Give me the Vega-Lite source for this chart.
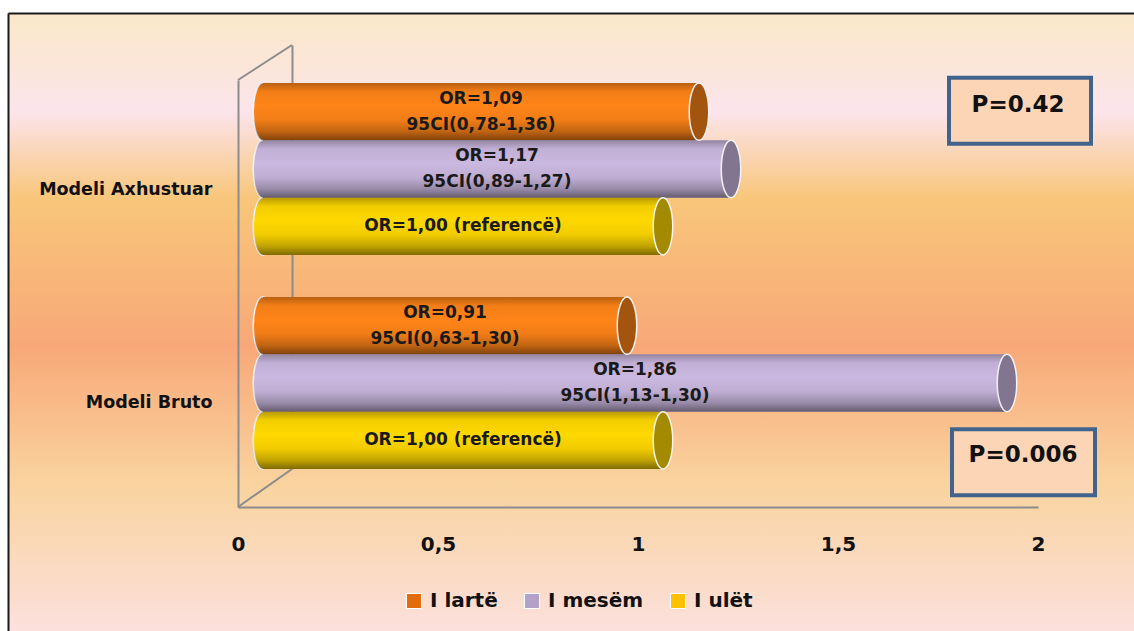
{
  "$schema": "https://vega.github.io/schema/vega-lite/v6.json",
  "autosize": {"type": "none"},
  "padding": {"left": 8, "top": 13, "right": 0, "bottom": 0},
  "width": 1126,
  "height": 618,
  "view": {
    "fill": {
      "gradient": "linear", "x1": 0, "y1": 0, "x2": 0, "y2": 1,
      "stops": [
        {"offset": 0, "color": "#FAE8C8"},
        {"offset": 0.08, "color": "#FBE6D8"},
        {"offset": 0.16, "color": "#FCE4EC"},
        {"offset": 0.3, "color": "#F8C67A"},
        {"offset": 0.54, "color": "#F8A878"},
        {"offset": 0.76, "color": "#F9D39E"},
        {"offset": 1, "color": "#FCE0DC"}
      ]
    },
    "stroke": null
  },
  "datasets": {
    "odds": [
      {"model": "Modeli Axhustuar", "series": "I lartë", "or": 1.09, "label": "OR=1,09\n95CI(0,78-1,36)"},
      {"model": "Modeli Axhustuar", "series": "I mesëm", "or": 1.17, "label": "OR=1,17\n95CI(0,89-1,27)"},
      {"model": "Modeli Axhustuar", "series": "I ulët", "or": 1.0, "label": "OR=1,00 (referencë)"},
      {"model": "Modeli Bruto", "series": "I lartë", "or": 0.91, "label": "OR=0,91\n95CI(0,63-1,30)"},
      {"model": "Modeli Bruto", "series": "I mesëm", "or": 1.86, "label": "OR=1,86\n95CI(1,13-1,30)"},
      {"model": "Modeli Bruto", "series": "I ulët", "or": 1.0, "label": "OR=1,00 (referencë)"}
    ],
    "pvals": [
      {"model": "Modeli Axhustuar", "p": "P=0.42"},
      {"model": "Modeli Bruto", "p": "P=0.006"}
    ]
  },
  "resolve": {
    "scale": {"x": "independent", "y": "independent"},
    "axis": {"x": "independent", "y": "independent"}
  },
  "layer": [
    {
      "data": {"name": "pvals"},
      "mark": {"type": "point", "size": 0, "opacity": 0},
      "encoding": {
        "x": {
          "datum": 0, "type": "quantitative", "scale": {"domain": [0, 1]},
          "axis": {"orient": "top", "offset": 0, "labels": false, "ticks": false, "grid": false, "title": null, "domainColor": "#1a1a1a", "domainWidth": 2}
        },
        "y": {
          "datum": 0, "type": "quantitative", "scale": {"domain": [0, 1]},
          "axis": {"orient": "left", "offset": 0, "labels": false, "ticks": false, "grid": false, "title": null, "domainColor": "#1a1a1a", "domainWidth": 2}
        }
      }
    },
    {
      "data": {"name": "pvals"},
      "encoding": {
        "y": {
          "field": "model", "type": "nominal",
          "scale": {"domain": ["Modeli Axhustuar", "Modeli Bruto"], "range": [67, 494], "paddingInner": 0, "paddingOuter": 0},
          "axis": {
            "orient": "left", "offset": -230, "title": null, "ticks": false, "grid": false,
            "domainColor": "#8C8C8C", "domainWidth": 2,
            "labelFont": "DejaVu Sans", "labelFontWeight": "bold", "labelFontSize": 17.5,
            "labelColor": "#111111", "labelPadding": 26, "labelOffset": 3, "labelLimit": 300, "zindex": 0
          }
        }
      },
      "layer": [
        {
          "transform": [{"filter": "datum.model === 'Modeli Axhustuar'"}],
          "layer": [
            {
              "mark": {"type": "bar", "height": 66, "yOffset": -76, "fill": "#FBD5B5", "stroke": "#41648F", "strokeWidth": 4},
              "encoding": {
                "x": {
                  "datum": 1.7775, "type": "quantitative",
                  "scale": {"domain": [0, 2], "range": [230, 1030], "nice": false, "zero": false},
                  "axis": {
                    "orient": "bottom", "offset": -124, "title": null, "ticks": false, "grid": false,
                    "values": [0, 0.5, 1, 1.5, 2], "labelFlush": false,
                    "labelExpr": "replace(format(datum.value, '~g'), '.', ',')",
                    "domainColor": "#8C8C8C", "domainWidth": 2,
                    "labelFont": "DejaVu Sans", "labelFontWeight": "bold", "labelFontSize": 20,
                    "labelColor": "#111111", "labelPadding": 27, "zindex": 0
                  }
                },
                "x2": {"datum": 2.1325}
              }
            },
            {
              "mark": {"type": "text", "yOffset": -82, "font": "DejaVu Sans", "fontWeight": "bold", "fontSize": 23, "color": "#111111", "baseline": "middle", "align": "center"},
              "encoding": {
                "x": {"datum": 1.95, "type": "quantitative"},
                "text": {"field": "p"}
              }
            },
            {
              "mark": {"type": "rule", "color": "#8C8C8C", "strokeWidth": 2, "y2Offset": -35},
              "encoding": {
                "x": {"datum": 0, "type": "quantitative"},
                "x2": {"datum": 0.135},
                "y": {"datum": "Modeli Axhustuar", "type": "nominal", "bandPosition": 0},
                "y2": {"datum": "Modeli Axhustuar", "bandPosition": 0}
              }
            },
            {
              "mark": {"type": "rule", "color": "#8C8C8C", "strokeWidth": 2, "y2Offset": -38},
              "encoding": {
                "x": {"datum": 0, "type": "quantitative"},
                "x2": {"datum": 0.135},
                "y": {"datum": "Modeli Bruto", "type": "nominal", "bandPosition": 1},
                "y2": {"datum": "Modeli Bruto", "bandPosition": 1}
              }
            }
          ]
        },
        {
          "transform": [{"filter": "datum.model === 'Modeli Bruto'"}],
          "layer": [
            {
              "mark": {"type": "bar", "height": 66, "yOffset": 62, "fill": "#FBD5B5", "stroke": "#41648F", "strokeWidth": 4},
              "encoding": {
                "x": {"datum": 1.785, "type": "quantitative"},
                "x2": {"datum": 2.1425}
              }
            },
            {
              "mark": {"type": "text", "yOffset": 55, "font": "DejaVu Sans", "fontWeight": "bold", "fontSize": 23, "color": "#111111", "baseline": "middle", "align": "center"},
              "encoding": {
                "x": {"datum": 1.9625, "type": "quantitative"},
                "text": {"field": "p"}
              }
            }
          ]
        }
      ]
    },
    {
      "data": {"name": "odds"},
      "encoding": {
        "y": {
          "field": "model", "type": "nominal",
          "scale": {"domain": ["Modeli Axhustuar", "Modeli Bruto"], "range": [32, 456], "paddingInner": 0.37383, "paddingOuter": 0.17757},
          "axis": {
            "orient": "left", "offset": -284, "title": null, "labels": false, "ticks": false, "grid": false,
            "domainColor": "#8C8C8C", "domainWidth": 2, "zindex": 0
          }
        },
        "yOffset": {
          "field": "series", "type": "nominal",
          "scale": {"domain": ["I lartë", "I mesëm", "I ulët"], "range": [0, 172], "paddingInner": 0, "paddingOuter": 0}
        }
      },
      "layer": [
        {
          "mark": {"type": "point", "filled": true, "size": 0},
          "encoding": {
            "x": {
              "datum": 0, "type": "quantitative",
              "scale": {"domain": [0, 2], "range": [255, 1055], "nice": false, "zero": false},
              "axis": null
            },
            "color": {
              "field": "series", "type": "nominal",
              "scale": {"domain": ["I lartë", "I mesëm", "I ulët"], "range": ["#E36C0A", "#B2A2C7", "#FFC000"]},
              "legend": {
                "orient": "none", "legendX": 396, "legendY": 578, "direction": "horizontal", "title": null,
                "labelFont": "DejaVu Sans", "labelFontWeight": "bold", "labelFontSize": 20, "labelColor": "#111111",
                "symbolType": "square", "symbolSize": 225, "symbolStrokeColor": "#FFFFFF", "symbolStrokeWidth": 1,
                "symbolOpacity": 1, "columnPadding": 24, "labelOffset": 6, "padding": 0
              }
            }
          }
        },
        {
          "mark": {
            "type": "point", "filled": true, "opacity": 1, "size": 3287,
            "shape": "M0,-1C0.1878,-1,0.34,-0.5523,0.34,0C0.34,0.5523,0.1878,1,0,1C-0.1878,1,-0.34,0.5523,-0.34,0C-0.34,-0.5523,-0.1878,-1,0,-1Z",
            "stroke": "#F4F4F4", "strokeWidth": 1.5
          },
          "encoding": {
            "x": {"datum": 0, "type": "quantitative"},
            "fill": {
              "field": "series", "type": "nominal",
              "scale": {"domain": ["I lartë", "I mesëm", "I ulët"], "range": ["#FF8418", "#CBB8E0", "#FFD800"]},
              "legend": null
            }
          }
        },
        {
          "mark": {
            "type": "point", "filled": true, "opacity": 1, "size": 3287,
            "shape": "M0,-1C0.1878,-1,0.34,-0.5523,0.34,0C0.34,0.5523,0.1878,1,0,1C-0.1878,1,-0.34,0.5523,-0.34,0C-0.34,-0.5523,-0.1878,-1,0,-1Z",
            "fill": {
              "gradient": "linear", "x1": 0, "y1": 0, "x2": 0, "y2": 1,
              "stops": [
                {"offset": 0, "color": "rgba(0,0,0,0.28)"},
                {"offset": 0.15, "color": "rgba(0,0,0,0.05)"},
                {"offset": 0.4, "color": "rgba(0,0,0,0)"},
                {"offset": 0.65, "color": "rgba(0,0,0,0.06)"},
                {"offset": 0.85, "color": "rgba(0,0,0,0.25)"},
                {"offset": 1, "color": "rgba(0,0,0,0.5)"}
              ]
            }
          },
          "encoding": {"x": {"datum": 0, "type": "quantitative"}}
        },
        {
          "mark": {"type": "bar"},
          "encoding": {
            "x": {"field": "or", "type": "quantitative"},
            "fill": {
              "field": "series", "type": "nominal",
              "scale": {"domain": ["I lartë", "I mesëm", "I ulët"], "range": ["#FF8418", "#CBB8E0", "#FFD800"]},
              "legend": null
            }
          }
        },
        {
          "mark": {
            "type": "bar",
            "fill": {
              "gradient": "linear", "x1": 0, "y1": 0, "x2": 0, "y2": 1,
              "stops": [
                {"offset": 0, "color": "rgba(0,0,0,0.28)"},
                {"offset": 0.15, "color": "rgba(0,0,0,0.05)"},
                {"offset": 0.4, "color": "rgba(0,0,0,0)"},
                {"offset": 0.65, "color": "rgba(0,0,0,0.06)"},
                {"offset": 0.85, "color": "rgba(0,0,0,0.25)"},
                {"offset": 1, "color": "rgba(0,0,0,0.5)"}
              ]
            }
          },
          "encoding": {"x": {"field": "or", "type": "quantitative"}}
        },
        {
          "mark": {
            "type": "point", "filled": true, "opacity": 1, "size": 3287,
            "shape": "M0,-1C0.1878,-1,0.34,-0.5523,0.34,0C0.34,0.5523,0.1878,1,0,1C-0.1878,1,-0.34,0.5523,-0.34,0C-0.34,-0.5523,-0.1878,-1,0,-1Z"
          },
          "encoding": {
            "x": {"field": "or", "type": "quantitative"},
            "fill": {
              "field": "series", "type": "nominal",
              "scale": {"domain": ["I lartë", "I mesëm", "I ulët"], "range": ["#FF8418", "#CBB8E0", "#FFD800"]},
              "legend": null
            }
          }
        },
        {
          "mark": {
            "type": "point", "filled": true, "opacity": 1, "size": 3287,
            "shape": "M0,-1C0.1878,-1,0.34,-0.5523,0.34,0C0.34,0.5523,0.1878,1,0,1C-0.1878,1,-0.34,0.5523,-0.34,0C-0.34,-0.5523,-0.1878,-1,0,-1Z",
            "fill": "rgba(0,0,0,0.36)", "stroke": "#F2F2F2", "strokeWidth": 1.5
          },
          "encoding": {"x": {"field": "or", "type": "quantitative"}}
        },
        {
          "transform": [{"filter": "indexof(datum.label, '\\n') >= 0"}],
          "mark": {
            "type": "text", "font": "DejaVu Sans", "fontWeight": "bold", "fontSize": 17, "dy": -13,
            "color": "#1a1a1a", "lineBreak": "\n", "lineHeight": 26, "baseline": "middle", "align": "center"
          },
          "encoding": {
            "x": {"field": "or", "type": "quantitative", "stack": "zero", "bandPosition": 0.5},
            "detail": {"field": "series"},
            "text": {"field": "label"}
          }
        },
        {
          "transform": [{"filter": "indexof(datum.label, '\\n') < 0"}],
          "mark": {
            "type": "text", "font": "DejaVu Sans", "fontWeight": "bold", "fontSize": 17,
            "color": "#1a1a1a", "baseline": "middle", "align": "center"
          },
          "encoding": {
            "x": {"field": "or", "type": "quantitative", "stack": "zero", "bandPosition": 0.5},
            "detail": {"field": "series"},
            "text": {"field": "label"}
          }
        }
      ]
    }
  ]
}
